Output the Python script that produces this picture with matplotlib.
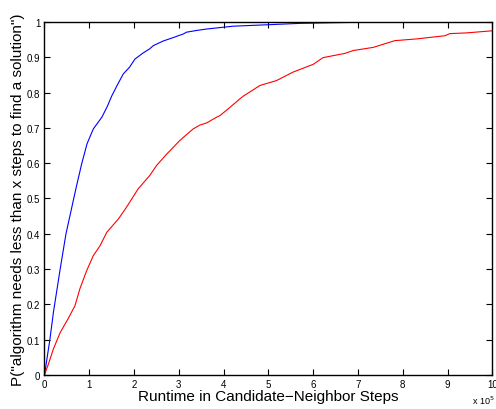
import matplotlib
matplotlib.use('Agg')
import matplotlib.pyplot as plt

plt.rcParams['font.family'] = ['Liberation Sans', 'DejaVu Sans']

# runtimes in units of 1e5 steps
blue_x = [0, 0.12, 0.20, 0.35, 0.48, 0.61, 0.70, 0.83, 0.95, 1.09, 1.28, 1.40, 1.50, 1.62, 1.76, 1.90, 2.02,
          2.20, 2.35, 2.43, 2.65, 2.88, 3.10, 3.17, 3.40, 3.62, 3.99, 4.21, 4.96, 5.70, 6.50, 7.55]
blue_y = [0, 0.10, 0.178, 0.30, 0.40, 0.475, 0.527, 0.598, 0.655, 0.697, 0.73, 0.76, 0.79, 0.82, 0.853, 0.872, 0.895,
          0.912, 0.924, 0.933, 0.946, 0.956, 0.966, 0.971, 0.976, 0.98, 0.985, 0.988, 0.992, 0.996, 0.998, 1.0]

red_x = [0, 0.085, 0.2, 0.35, 0.53, 0.68, 0.79, 0.94, 1.09, 1.24, 1.39, 1.65, 1.83, 2.09,
         2.35, 2.50, 2.73, 2.80, 3.02, 3.10, 3.32, 3.47, 3.62, 3.84, 3.92, 4.14, 4.36, 4.44,
         4.81, 5.18, 5.55, 6.0, 6.22, 6.71, 6.89, 7.34, 7.82, 8.31, 8.94, 9.05, 9.42, 10.0]
red_y = [0, 0.03, 0.074, 0.12, 0.16, 0.196, 0.244, 0.295, 0.338, 0.366, 0.404, 0.442, 0.475, 0.527,
         0.565, 0.593, 0.626, 0.635, 0.664, 0.673, 0.697, 0.708, 0.714, 0.73, 0.735, 0.758, 0.782, 0.79,
         0.82, 0.834, 0.858, 0.88, 0.899, 0.911, 0.919, 0.928, 0.947, 0.952, 0.961, 0.967, 0.969, 0.975]

x_ticks = list(range(0, 11))
y_ticks = [0, 0.1, 0.2, 0.3, 0.4, 0.5, 0.6, 0.7, 0.8, 0.9, 1]
y_labels = ['0', '0.1', '0.2', '0.3', '0.4', '0.5', '0.6', '0.7', '0.8', '0.9', '1']

fig = plt.figure(figsize=(4.96, 4.10), dpi=100)
ax = fig.add_axes([0.0897, 0.083, 0.903, 0.861])

ax.plot(blue_x, blue_y, color='#0000ff', lw=0.8)
ax.plot(red_x, red_y, color='#ff0000', lw=0.8)

ax.set_xlim(0, 10)
ax.set_ylim(0, 1)
ax.set_xticks(x_ticks)
ax.set_xticklabels([str(t) for t in x_ticks])
ax.set_yticks(y_ticks)
ax.set_yticklabels(y_labels)
ax.tick_params(direction='in', length=4, width=0.8, labelsize=7, top=True, right=True, pad=3)
for s in ax.spines.values():
    s.set_linewidth(1.0)

ax.set_xlabel('Runtime in Candidate\u2212Neighbor Steps', fontsize=11, labelpad=0)
ax.set_ylabel('P("algorithm needs less than x steps to find a solution")', fontsize=11, labelpad=1)
fig.text(0.952, 0.008, r'x 10$^5$', fontsize=6.5, ha='left', va='bottom')

fig.savefig('out.png', dpi=100)
